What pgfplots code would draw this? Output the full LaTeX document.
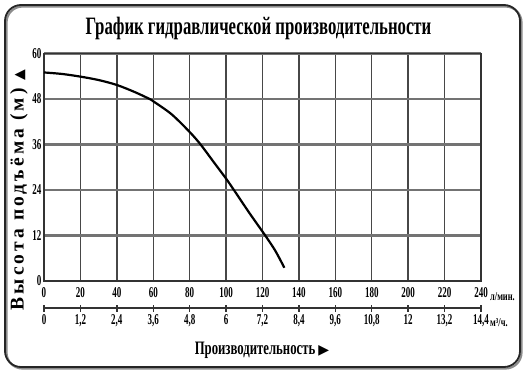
\documentclass[border=0pt]{standalone}
\usepackage{pgfplots}
\pgfplotsset{compat=1.18}
\usepackage{fontspec}
\setmainfont{Liberation Serif}
\newfontfamily\condfont[FakeStretch=0.67]{Liberation Serif}
\newfontfamily\tickfontfam[FakeStretch=0.6]{Liberation Serif}
\newfontfamily\unitfontfam[FakeStretch=0.7]{Liberation Serif}
\newfontfamily\ylabfont[LetterSpace=16]{Liberation Serif}
\newfontfamily\symfont{DejaVu Sans}
\newcommand{\tickfont}{\tickfontfam\bfseries\fontsize{15bp}{16bp}\selectfont}
\begin{document}
\begin{tikzpicture}
\useasboundingbox (-44bp,-93bp) rectangle (488bp,281bp);
% frame
\draw[line width=2.2bp, black!45, rounded corners=16bp] (-37.5bp,-87.5bp) rectangle (477.5bp,274.5bp);
\draw[line width=1.8bp, black!85, rounded corners=16bp] (-39bp,-86bp) rectangle (476bp,276bp);
\begin{axis}[
  at={(0,0)}, anchor=south west,
  scale only axis, width=437bp, height=227.5bp,
  xmin=0, xmax=240, ymin=0, ymax=60,
  xtick={0,20,...,240}, ytick={0,12,...,60},
  grid=major,
  x grid style={line width=1.4bp, black!72},
  y grid style={line width=2.4bp, black!55},
  axis line style={line width=1.6bp, black!80},
  major tick length=0pt,
  /pgf/number format/assume math mode=true,
  tick label style={font=\tickfont},
  xticklabel style={anchor=base, yshift=-16bp},
  yticklabel style={anchor=east, xshift=1bp},
  clip=false,
]
\addplot[line width=2.2bp, black, smooth] coordinates {
(0,55) (10,54.6) (20,53.9) (30,53) (40,51.7) (50,49.8) (58,48) (60,47.4)
(70,44) (80,39.3) (86,36) (93,31.5) (100,27) (105,23.5) (113,17.8)
(121.5,12) (127,8) (132,3.5)
};
\end{axis}
\begin{axis}[
  at={(0,-27bp)}, anchor=south west,
  scale only axis, width=437bp, height=1bp,
  xmin=0, xmax=14.4, ymin=0, ymax=1,
  axis x line*=bottom, axis y line=none,
  xtick={0,1.2,2.4,3.6,4.8,6,7.2,8.4,9.6,10.8,12,13.2,14.4},
  xticklabels={0,{1,2},{2,4},{3,6},{4,8},6,{7,2},{8,4},{9,6},{10,8},12,{13,2},{14,4}},
  axis line style={line width=2.4bp, black!80},
  major tick length=7bp, tick align=center,
  tick style={line width=1.4bp, black!80},
  tick label style={font=\tickfont},
  xticklabel style={anchor=base, yshift=-13bp},
  clip=false,
]
\addplot[draw=none] coordinates {(0,0)};
\end{axis}
% units
\node[anchor=base west, inner sep=0pt, font=\unitfontfam\bfseries\fontsize{12bp}{13bp}\selectfont] at (446bp,-19bp) {л/мин.};
\node[anchor=base west, inner sep=0pt, font=\unitfontfam\bfseries\fontsize{12bp}{13bp}\selectfont] at (446bp,-45bp) {м³/ч.};
% title
\node[inner sep=0pt, font=\condfont\bfseries\fontsize{25bp}{28bp}\selectfont] at (214.5bp,253bp) {График гидравлической производительности};
% x label
\node[inner sep=0pt, anchor=base, font=\condfont\bfseries\fontsize{19bp}{21bp}\selectfont] at (218bp,-73bp) {Производительность\,{\symfont\fontsize{14bp}{14bp}\selectfont ▶}};
% y label
\node[inner sep=0pt, rotate=90, font=\ylabfont\bfseries\fontsize{19.5bp}{21bp}\selectfont] at (-25bp,91bp) {Высота подъёма (м) {\symfont\fontsize{14bp}{14bp}\selectfont ▲}};
\end{tikzpicture}
\end{document}
